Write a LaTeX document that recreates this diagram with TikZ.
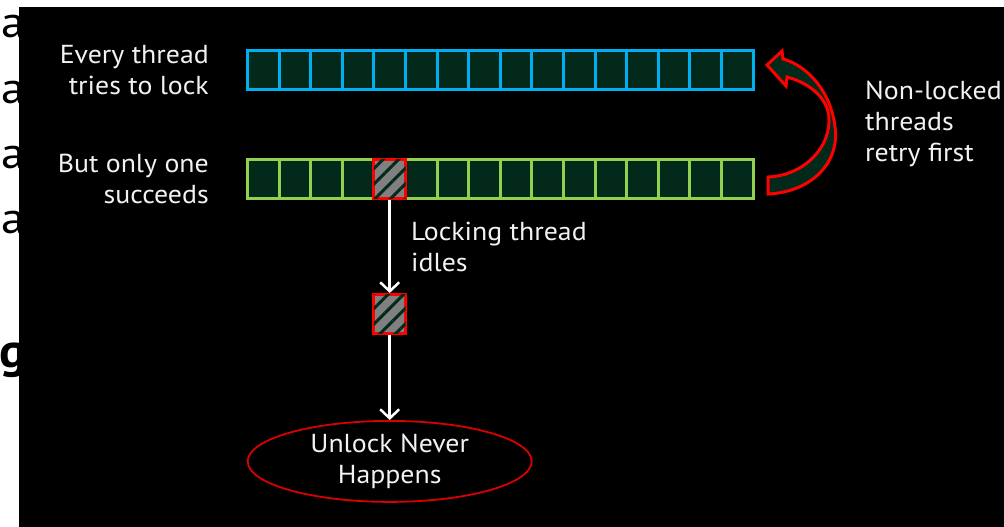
\documentclass[tikz,border=0pt]{standalone}
\usepackage{fontspec}
\setmainfont[FakeStretch=1.07]{PT Sans}
\usepackage{xcolor}
\usetikzlibrary{positioning,shapes.geometric,patterns.meta,arrows.meta}

\definecolor{cellfill}{HTML}{03291A}
\definecolor{barblue}{HTML}{00B0F0}
\definecolor{bargreen}{HTML}{92D050}
\definecolor{lockred}{HTML}{FF0000}
\definecolor{lockgray}{HTML}{808080}
\definecolor{txt}{HTML}{F2F2F2}

\begin{document}
\begin{tikzpicture}[x=1pt, y=-1pt,
        cell/.style={draw, fill=cellfill, line width=3pt, minimum width=31.6pt, minimum height=39pt, inner sep=0pt},
        lockcell/.style={cell, draw=lockred, fill=lockgray,
            postaction={pattern={Lines[angle=45,distance=11pt,line width=3pt]}, pattern color=cellfill}},
        caption/.style={text=txt, inner sep=2pt, font=\fontsize{26}{31}\selectfont},
        flow/.style={draw=white, line width=2.5pt, -{Straight Barb[length=9pt,width=19pt]}}]
    \useasboundingbox (0,0) rectangle (1004,527);

    % slide text behind the black panel
    \fill[white] (0,0) rectangle (1004,527);
    \foreach \y [count=\k] in {38,103,168,233}
        \node[anchor=base west, inner sep=0pt, font=\fontsize{44}{44}\selectfont] (behind\k) at (1,\y) {a};
    \node[anchor=base west, inner sep=0pt, font=\fontsize{48}{48}\selectfont\bfseries] (behindg) at (-1,367) {g};
    \fill[black] (19,7) rectangle (1004,527);

    % the two rows of threads
    \foreach \i in {1,...,16} {
        \node[cell, draw=barblue] (b\i) at ({247.5+(\i-0.5)*31.6}, 70) {};
        \node[cell, draw=bargreen] (g\i) at ({247.5+(\i-0.5)*31.6}, 179) {};
    }
    \node[lockcell] (lock) at (g5) {};
    \node[lockcell, below=93pt of lock] (idle) {};
    \node[ellipse, draw=lockred!85!black, line width=1.8pt, fill=black, caption, align=center,
        minimum width=284pt, minimum height=81pt, inner sep=0pt, below=85pt of idle] (stall) {Unlock Never\\Happens};

    \draw[flow] (lock) -- (idle);
    \draw[flow] (idle) -- (stall);

    % labels
    \node[caption, align=right, left=35pt of b1] (tries) {Every thread\\tries to lock};
    \node[caption, align=right, left=35pt of g1] (succeeds) {But only one\\succeeds};
    \node[caption, align=left, anchor=west] (retry) at (863,124) {Non-locked\\threads\\retry first};
    \node[caption, align=left, anchor=west] (idles) at (409,247) {Locking thread\\idles};

    % curved retry arrow
    \filldraw[draw=lockred, fill=cellfill, line width=3pt, line join=miter]
        (768,177) -- (768,194) .. controls (812,192) and (840,162) .. (835,127)
        .. controls (831,92) and (808,66) .. (783,59) -- (782,51) -- (767,65) -- (786,86) -- (787,77)
        .. controls (812,84) and (830,100) .. (829,122)
        .. controls (828,152) and (800,176) .. (768,177) -- cycle;
\end{tikzpicture}
\end{document}
